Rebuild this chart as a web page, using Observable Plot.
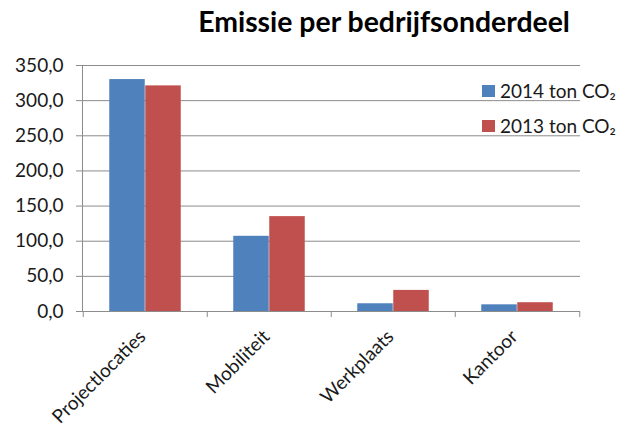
<!DOCTYPE html>
<html><head><meta charset="utf-8">
<script src="https://cdn.jsdelivr.net/npm/d3@7"></script>
<script src="https://cdn.jsdelivr.net/npm/@observablehq/plot@0.6"></script>
<style>
body{margin:0;background:#fff;font-family:Lato, sans-serif;}
#wrap{position:relative;width:623px;height:427px;overflow:hidden}
#title{position:absolute;left:384px;top:4px;transform:translateX(-50%);white-space:nowrap;font-weight:bold;font-size:28.4px;color:#000}
#legend{position:absolute;left:482px;top:73px;font-size:19px;color:#1a1a1a}
.item{display:flex;align-items:center;height:35px;white-space:nowrap}
.sw{width:13px;height:12px;margin-right:5px}
svg{position:absolute;left:0;top:0}
</style></head><body>
<div id="wrap"></div>
<script>
const categories = ["Projectlocaties", "Mobiliteit", "Werkplaats", "Kantoor"];
const series = ["2014 ton CO₂", "2013 ton CO₂"];
const values2014 = [330, 107, 11, 9.5];
const values2013 = [321, 135, 30, 12.5];
const yTicks = [0, 50, 100, 150, 200, 250, 300, 350];
const colors = ["#4F81BD", "#C0504D"];
const titleText = "Emissie per bedrijfsonderdeel";

const fmt = d => d.toFixed(1).replace(".", ",");
const gray = "#8c8c8c";

const chart = Plot.plot({
  width: 623, height: 427,
  marginLeft: 82, marginRight: 43, marginTop: 65, marginBottom: 116,
  style: {fontFamily: "Lato, sans-serif", fontSize: "19px", color: "#1a1a1a", background: "transparent"},
  x: {domain: categories, padding: 0, label: null},
  y: {domain: [0, 350], label: null},
  marks: [
    Plot.gridY(yTicks, {stroke: gray, strokeOpacity: 1}),
    Plot.barY(categories, {x: d => d, y: (d, i) => values2014[i], fill: colors[0], insetLeft: 26.25, insetRight: 62.25}),
    Plot.barY(categories, {x: d => d, y: (d, i) => values2013[i], fill: colors[1], insetLeft: 62.25, insetRight: 26.25}),
    Plot.frame({anchor: "left", stroke: gray}),
    Plot.ruleY([0], {stroke: gray}),
    Plot.axisY(yTicks, {tickSize: 6, tickPadding: 13, stroke: gray, fill: "#1a1a1a", tickFormat: fmt, label: null}),
    Plot.axisX({tickSize: 0, tickRotate: -45, tickPadding: 22, dx: -3, label: null, fill: "#1a1a1a"}),
    Plot.axisX(categories, {text: null, tickSize: 6, dx: -62.25, stroke: gray, label: null}),
    Plot.axisX([categories[3]], {text: null, tickSize: 6, dx: 62.25, stroke: gray, label: null})
  ]
});

const wrap = document.getElementById("wrap");
wrap.appendChild(chart);
const title = document.createElement("div");
title.id = "title";
title.textContent = titleText;
wrap.appendChild(title);
const legend = document.createElement("div");
legend.id = "legend";
series.forEach((s, i) => {
  const it = document.createElement("div");
  it.className = "item";
  const sw = document.createElement("span");
  sw.className = "sw";
  sw.style.background = colors[i];
  const tx = document.createElement("span");
  tx.textContent = s;
  it.appendChild(sw); it.appendChild(tx);
  legend.appendChild(it);
});
wrap.appendChild(legend);
</script>
</body></html>
